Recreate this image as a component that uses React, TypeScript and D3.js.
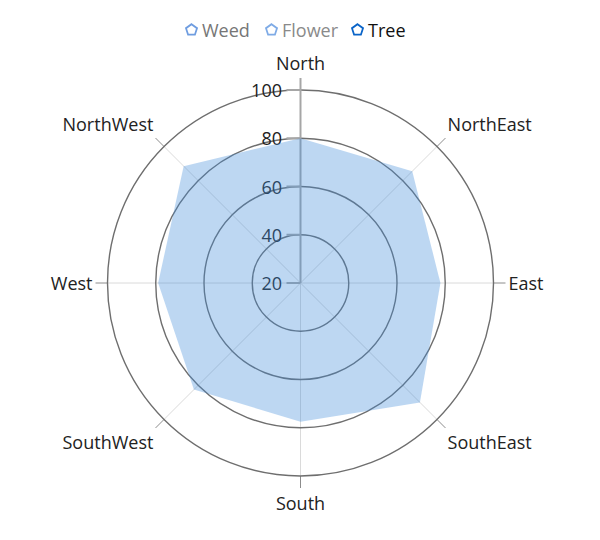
import React from "react";
import * as d3 from "d3";

const categories = ["North", "NorthEast", "East", "SouthEast", "South", "SouthWest", "West", "NorthWest"];
const treeValues = [80, 85.5, 78, 90, 77.5, 82.5, 79, 88.5];
const radialTicks = [20, 40, 60, 80, 100];
const legendNames = ["Weed", "Flower", "Tree"];
const legendIconColors = ["#6f9de0", "#7fabe6", "#0a64c8"];
const legendTextColors = ["#767676", "#8a8a8a", "#111111"];
const legendX = [191.5, 271.5, 357.5];

const W = 600, H = 540;
const cx = 300.5, cy = 283, R = 193;
const FONT = "'Open Sans', 'Segoe UI', sans-serif";

export default function App() {
  const r = d3.scaleLinear().domain([20, 100]).range([0, R]);
  const angle = d3.scalePoint<string>().domain(categories).range([0, 2 * Math.PI * (categories.length - 1) / categories.length]);
  const pt = (a: number, rad: number) => [cx + rad * Math.sin(a), cy - rad * Math.cos(a)];

  const line = d3.lineRadial<number>()
    .angle((_, i) => angle(categories[i])!)
    .radius((d) => r(d))
    .curve(d3.curveLinearClosed);

  const pentagon = (x: number, y: number, s: number) =>
    d3.range(5).map((i) => {
      const a = (i * 2 * Math.PI) / 5;
      return [x + s * Math.sin(a), y - s * Math.cos(a)].join(",");
    }).join(" ");

  return (
    <svg width={W} height={H} style={{ display: "block", position: "absolute", left: 0, top: 0 }} fontFamily={FONT}>
      <rect width={W} height={H} fill="#fff" />
      {/* legend */}
      {legendNames.map((n, i) => (
        <g key={n}>
          <polygon points={pentagon(legendX[i], 30, 5.8)} fill="#fff" stroke={legendIconColors[i]} strokeWidth={1.8} />
          <text x={legendX[i] + 10.5} y={30} dominantBaseline="central" fontSize={18} fill={legendTextColors[i]}>{n}</text>
        </g>
      ))}
      {/* angle lines */}
      {categories.map((c) => {
        const a = angle(c)!;
        const [x1, y1] = pt(a, R);
        const [x2, y2] = pt(a, R + 12);
        return (
          <g key={c}>
            <line x1={cx} y1={cy} x2={x1} y2={y1} stroke="#dadada" strokeWidth={1} />
            <line x1={x1} y1={y1} x2={x2} y2={y2} stroke="#8c8c8c" strokeWidth={1} />
          </g>
        );
      })}
      {/* circles */}
      {radialTicks.filter((t) => t > 20).map((t) => (
        <circle key={t} cx={cx} cy={cy} r={r(t)} fill="none" stroke="#6e6e6e" strokeWidth={1.4} />
      ))}
      {/* radial axis */}
      <line x1={cx} y1={cy} x2={cx} y2={cy - R - 12} stroke="#a6a6a6" strokeWidth={2} />
      {radialTicks.map((t) => (
        <g key={t}>
          <line x1={cx - 14} x2={cx} y1={cy - r(t)} y2={cy - r(t)} stroke="#a6a6a6" strokeWidth={2} />
          <text x={282} y={cy - r(t)} textAnchor="end" dominantBaseline="central" fontSize={18} fill="#222">{t}</text>
        </g>
      ))}
      {/* series */}
      <path d={line(treeValues)!} transform={`translate(${cx},${cy})`} fill="rgb(66,141,218)" fillOpacity={0.35} stroke="none" />
      {/* category labels */}
      {categories.map((c) => {
        const a = angle(c)!;
        const [x, y] = pt(a, R + 15);
        const s = Math.sin(a), co = Math.cos(a);
        const anchor = Math.abs(s) < 0.01 ? "middle" : s > 0 ? "start" : "end";
        const dy = Math.abs(co) < 0.01 ? 0 : co > 0 ? -12 : 12;
        return (
          <text key={c} x={x} y={y + dy} textAnchor={anchor} dominantBaseline="central" fontSize={18} fill="#222">{c}</text>
        );
      })}
    </svg>
  );
}
